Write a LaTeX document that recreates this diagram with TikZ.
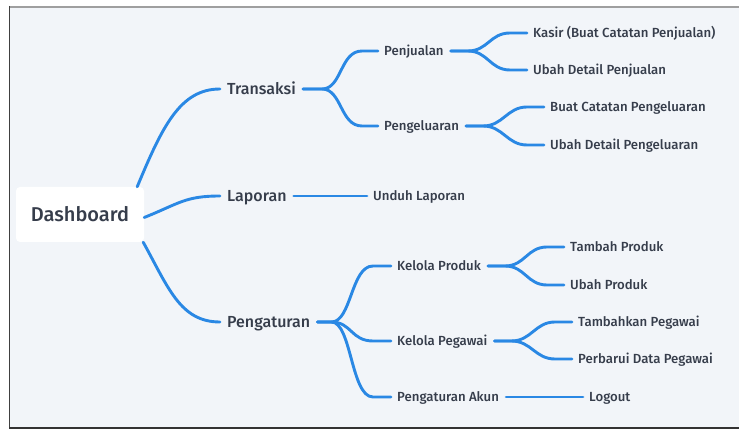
\documentclass[tikz,border=0pt]{standalone}
\usepackage{fontspec}
\IfFontExistsTF{Fira Sans Medium}{\setmainfont{Fira Sans Medium}}{\setmainfont{Fira Sans}}
\definecolor{bg}{HTML}{F2F5F9}
\definecolor{txt}{HTML}{363D4B}
\definecolor{ln}{HTML}{2A88E4}
\tikzset{
  lbl/.style={anchor=west,inner sep=0pt,text=txt,text height=9.1pt,text depth=0pt,font=\fontsize{13.2}{15}\selectfont},
  lbla/.style={lbl,text height=11pt,font=\fontsize{16}{19}\selectfont},
  br/.style={draw=ln,line width=2.9pt,line cap=round},
}
\begin{document}
\begin{tikzpicture}[x=1pt,y=-1pt]
\useasboundingbox (0,0) rectangle (739,430);
\fill[white] (0,0) rectangle (739,430);
\fill[bg] (9,6) rectangle (739,428);
\draw[gray!75,line width=2pt] (9,7) -- (739,7);
\draw[black!75,line width=1pt] (9.5,6) -- (9.5,428);
\draw[black!80,line width=1.5pt] (9,428) -- (739,428);

\node[fill=white,rounded corners=4pt,minimum width=128pt,minimum height=55pt,inner sep=0pt,text=txt,text height=13.8pt,text depth=0pt,font=\fontsize{20}{24}\selectfont] (dash) at (80,214.5) {Dashboard};

\node[lbla] (trx) at (227,89) {Transaksi};
\node[lbla] (lap) at (227,196) {Laporan};
\node[lbla] (set) at (227,322) {Pengaturan};

\node[lbl] (pjl) at (384,51) {Penjualan};
\node[lbl] (pgl) at (384,126) {Pengeluaran};
\node[lbl] (unduh) at (373,196) {Unduh Laporan};
\node[lbl] (kprod) at (397,266) {Kelola Produk};
\node[lbl] (kpeg) at (397,341) {Kelola Pegawai};
\node[lbl] (akun) at (397,397) {Pengaturan Akun};

\node[lbl] (kasir) at (533,33) {Kasir (Buat Catatan Penjualan)};
\node[lbl] (ubpj) at (533,70) {Ubah Detail Penjualan};
\node[lbl] (bcpg) at (550,107) {Buat Catatan Pengeluaran};
\node[lbl] (ubpg) at (550,145) {Ubah Detail Pengeluaran};
\node[lbl] (tprod) at (570,247) {Tambah Produk};
\node[lbl] (uprod) at (570,285) {Ubah Produk};
\node[lbl] (tpeg) at (578,322) {Tambahkan Pegawai};
\node[lbl] (ppeg) at (578,359) {Perbarui Data Pegawai};
\node[lbl] (logout) at (589,397) {Logout};

% level 1
\draw[br] ([xshift=-7pt]dash.north east) .. controls +(25,-60) and +(-40,0) .. ([xshift=-7pt]trx.west);
\draw[br] ([yshift=-3pt]dash.east) .. controls +(35,-14) and +(-35,0) .. ([xshift=-7pt]lap.west);
\draw[br] ([xshift=-1pt]dash.south east) .. controls +(25,45) and +(-40,0) .. ([xshift=-7pt]set.west);

% level 2
\draw[br] ([xshift=7pt]trx.east) -- +(19,0) .. controls +(20,0) and +(-22,0) .. ([xshift=-22pt]pjl.west) -- ([xshift=-6pt]pjl.west);
\draw[br] ([xshift=7pt]trx.east) -- +(19,0) .. controls +(20,0) and +(-22,0) .. ([xshift=-22pt]pgl.west) -- ([xshift=-6pt]pgl.west);
\draw[br] ([xshift=7pt]lap.east) -- ([xshift=-6pt]unduh.west);
\draw[br] ([xshift=7pt]set.east) -- +(14,0) .. controls +(20,0) and +(-22,0) .. ([xshift=-24pt]kprod.west) -- ([xshift=-6pt]kprod.west);
\draw[br] ([xshift=7pt]set.east) -- +(14,0) .. controls +(20,0) and +(-22,0) .. ([xshift=-24pt]kpeg.west) -- ([xshift=-6pt]kpeg.west);
\draw[br] ([xshift=7pt]set.east) -- +(14,0) .. controls +(20,0) and +(-22,0) .. ([xshift=-24pt]akun.west) -- ([xshift=-6pt]akun.west);

% level 3
\draw[br] ([xshift=7pt]pjl.east) -- +(17,0) .. controls +(20,0) and +(-20,0) .. ([xshift=-23pt]kasir.west) -- ([xshift=-6pt]kasir.west);
\draw[br] ([xshift=7pt]pjl.east) -- +(17,0) .. controls +(20,0) and +(-20,0) .. ([xshift=-23pt]ubpj.west) -- ([xshift=-6pt]ubpj.west);
\draw[br] ([xshift=7pt]pgl.east) -- +(17,0) .. controls +(20,0) and +(-20,0) .. ([xshift=-23pt]bcpg.west) -- ([xshift=-6pt]bcpg.west);
\draw[br] ([xshift=7pt]pgl.east) -- +(17,0) .. controls +(20,0) and +(-20,0) .. ([xshift=-23pt]ubpg.west) -- ([xshift=-6pt]ubpg.west);
\draw[br] ([xshift=7pt]kprod.east) -- +(17,0) .. controls +(20,0) and +(-20,0) .. ([xshift=-23pt]tprod.west) -- ([xshift=-6pt]tprod.west);
\draw[br] ([xshift=7pt]kprod.east) -- +(17,0) .. controls +(20,0) and +(-20,0) .. ([xshift=-23pt]uprod.west) -- ([xshift=-6pt]uprod.west);
\draw[br] ([xshift=7pt]kpeg.east) -- +(17,0) .. controls +(20,0) and +(-20,0) .. ([xshift=-23pt]tpeg.west) -- ([xshift=-6pt]tpeg.west);
\draw[br] ([xshift=7pt]kpeg.east) -- +(17,0) .. controls +(20,0) and +(-20,0) .. ([xshift=-23pt]ppeg.west) -- ([xshift=-6pt]ppeg.west);
\draw[br] ([xshift=7pt]akun.east) -- ([xshift=-6pt]logout.west);
\end{tikzpicture}
\end{document}
